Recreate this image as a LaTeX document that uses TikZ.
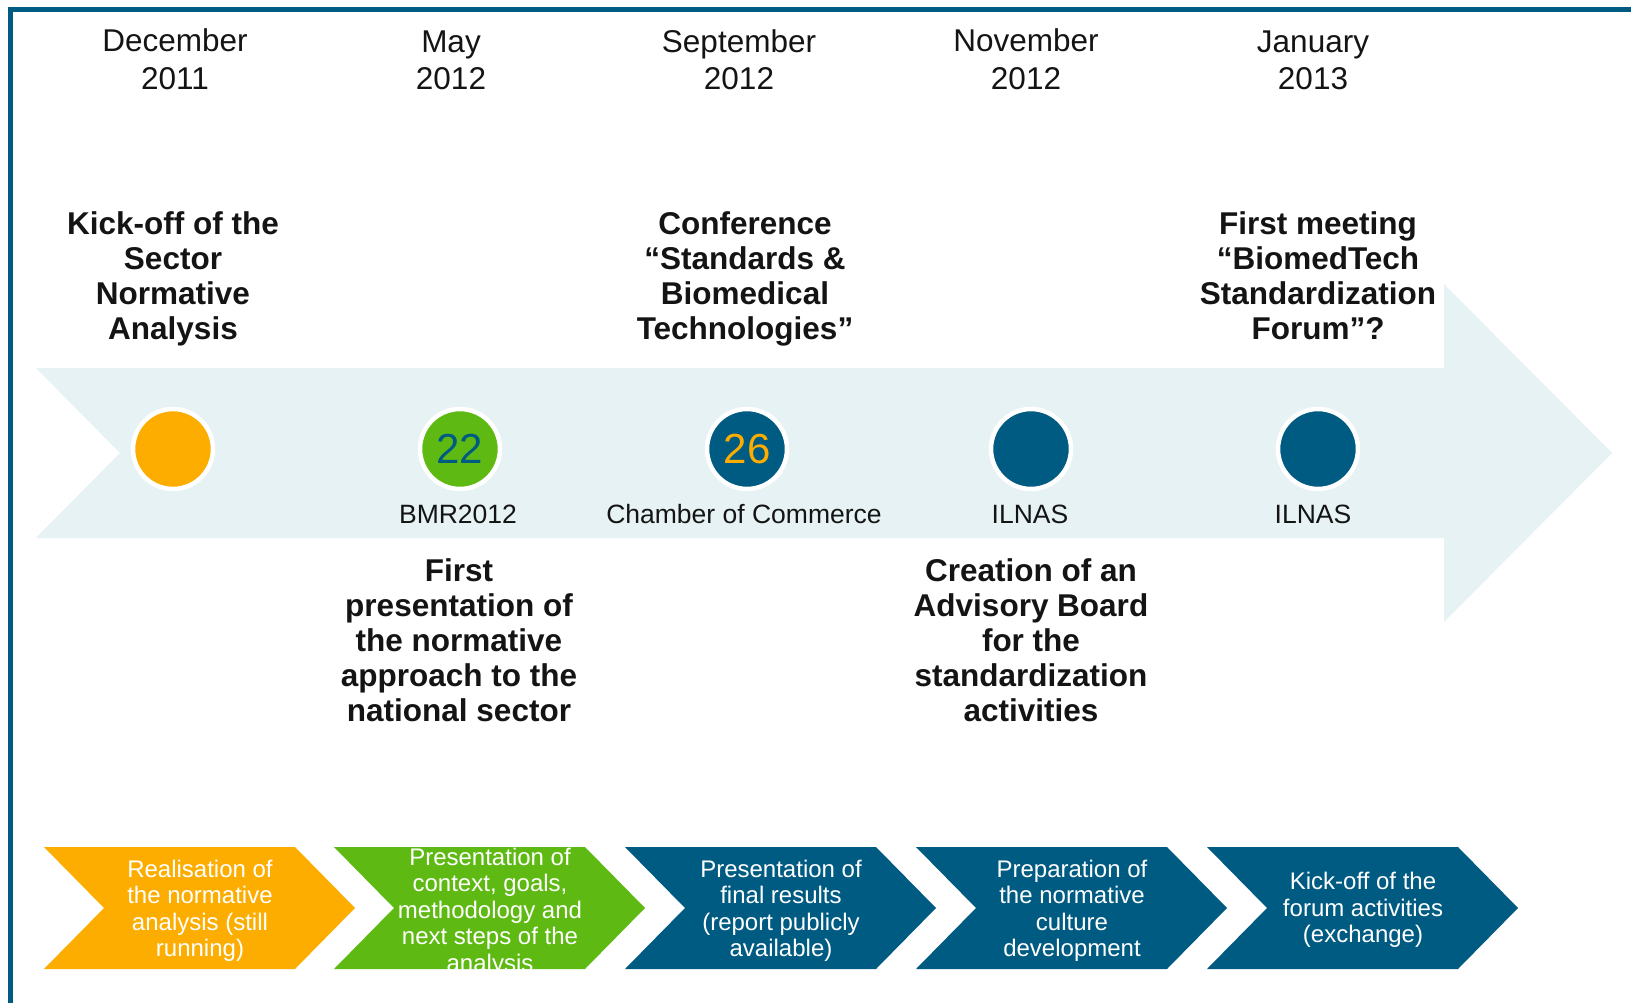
\documentclass[tikz,border=0pt]{standalone}
\usepackage{fontspec}
\setmainfont{Liberation Sans}
\definecolor{dblue}{RGB}{0,91,130}
\definecolor{orng}{RGB}{252,173,0}
\definecolor{grn}{RGB}{94,186,18}
\definecolor{bandc}{RGB}{230,242,244}
\definecolor{txt}{RGB}{20,20,20}
\tikzset{
  datelbl/.style={align=center, text=txt, inner sep=0, font=\fontsize{31.5}{37.5}\selectfont},
  titlelbl/.style={align=center, text=txt, inner sep=0, font=\fontsize{31.5}{35}\selectfont\bfseries},
  circ/.style={circle, minimum size=80, inner sep=0, draw=white, line width=4.5},
  numlbl/.style={font=\fontsize{42}{42}\selectfont},
  orglbl/.style={text=txt, inner sep=0, font=\fontsize{26.5}{30}\selectfont},
  chevtxt/.style={align=center, text=white, inner sep=0, font=\fontsize{24}{26.5}\selectfont},
}
\newcommand\chevshape[2]{\fill[#2] (#1,847) -- ++(251,0) -- ++(60,61) -- ++(-60,61) -- ++(-251,0) -- ++(60,-61) -- cycle;}
\begin{document}
\begin{tikzpicture}[x=1pt,y=-1pt]
\useasboundingbox (0,0) rectangle (1631,1003);
\fill[white] (0,0) rectangle (1631,1003);
\draw[dblue, line width=4.5] (10.5,1003) -- (10.5,9.5) -- (1631,9.5);
% big arrow band
\fill[bandc] (36,368) -- (1444,368) -- (1444,284) -- (1612,453) -- (1444,622) -- (1444,538) -- (36,538) -- (120,453) -- cycle;
% dates
\node[datelbl] (d1) at (175,59) {December\\2011};
\node[datelbl] (d2) at (451,60.5) {May\\2012};
\node[datelbl] (d3) at (739,59.5) {September\\2012};
\node[datelbl] (d4) at (1026,59) {November\\2012};
\node[datelbl] (d5) at (1313,60.5) {January\\2013};
% upper titles
\node[titlelbl] (t1) at (173,279) {Kick-off of the\\Sector\\Normative\\Analysis};
\node[titlelbl] (t3) at (745,279) {Conference\\“Standards \&\\Biomedical\\Technologies”};
\node[titlelbl] (t5) at (1318,276) {First meeting\\“BiomedTech\\Standardization\\Forum”?};
% circles
\node[circ, fill=orng] (c1) at (173,449) {};
\node[circ, fill=grn, numlbl, text=dblue] (c2) at (460,449) {22};
\node[circ, fill=dblue, numlbl, text=orng] (c3) at (747,449) {26};
\node[circ, fill=dblue] (c4) at (1031,449) {};
\node[circ, fill=dblue] (c5) at (1318,449) {};
% labels under circles
\node[orglbl] (o2) at (458,514) {BMR2012};
\node[orglbl] (o3) at (744,514) {Chamber of Commerce};
\node[orglbl] (o4) at (1030,514) {ILNAS};
\node[orglbl] (o5) at (1313,514) {ILNAS};
% lower titles
\node[titlelbl] (t2) at (459,640) {First\\presentation of\\the normative\\approach to the\\national sector};
\node[titlelbl] (t4) at (1031,640) {Creation of an\\Advisory Board\\for the\\standardization\\activities};
% chevrons
\chevshape{44}{orng}
\chevshape{334}{grn}
\chevshape{625}{dblue}
\chevshape{916}{dblue}
\chevshape{1207}{dblue}
\node[chevtxt] (k1) at (200,911) {Realisation of\\the normative\\analysis (still\\running)};
\node[chevtxt] (k2) at (490,912) {Presentation of\\context, goals,\\methodology and\\next steps of the\\analysis};
\node[chevtxt] (k3) at (781,911) {Presentation of\\final results\\(report publicly\\available)};
\node[chevtxt] (k4) at (1072,911) {Preparation of\\the normative\\culture\\development};
\node[chevtxt] (k5) at (1363,910) {Kick-off of the\\forum activities\\(exchange)};
\end{tikzpicture}
\end{document}
